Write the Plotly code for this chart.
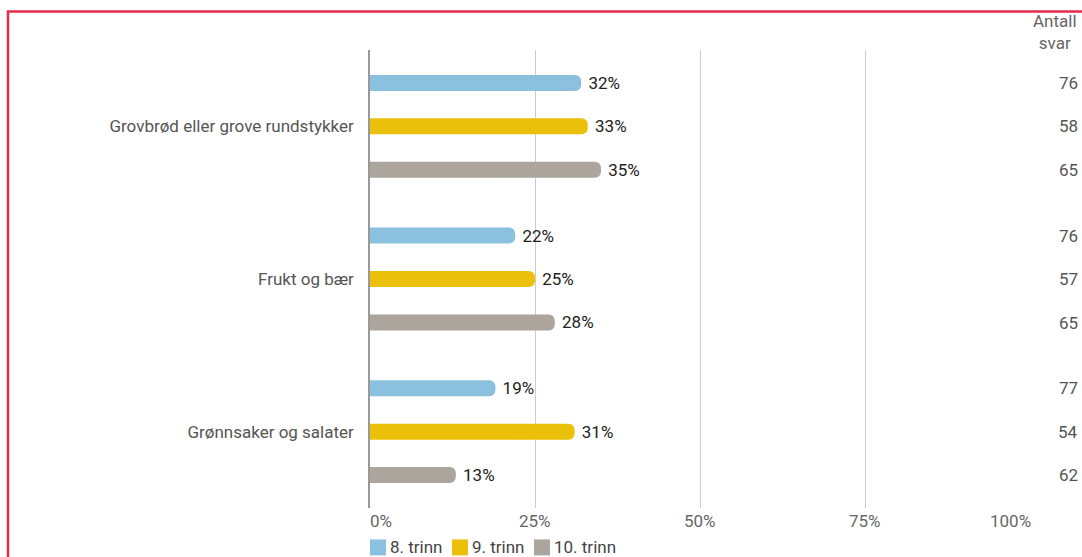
import plotly.graph_objects as go

categories = ["Grovbrød eller grove rundstykker", "Frukt og bær", "Grønnsaker og salater"]
series_names = ["8. trinn", "9. trinn", "10. trinn"]
values_8 = [32, 22, 19]
values_9 = [33, 25, 31]
values_10 = [35, 28, 13]
antall_8 = [76, 76, 77]
antall_9 = [58, 57, 54]
antall_10 = [65, 65, 62]
tick_vals = [0, 25, 50, 75, 100]
tick_text = ["0%", "25%", "50%", "75%", "100%"]

colors = ["#8BC1DF", "#EBC00A", "#ABA59E"]
all_values = [values_8, values_9, values_10]
all_counts = [antall_8, antall_9, antall_10]

FONT = "Roboto"
FS = 17
fig = go.Figure()
for name, vals, col in zip(series_names, all_values, colors):
    fig.add_trace(go.Bar(
        y=categories, x=vals, name=name, orientation="h", showlegend=False,
        marker=dict(color=col, cornerradius=6, line=dict(width=0)),
        text=[f" {v}%" for v in vals], textposition="outside", constraintext="none",
        textfont=dict(family=FONT, size=FS, color="#222222"),
        cliponaxis=False,
    ))

L, R, T, B = 370, 52, 49.5, 48.5
W, H = 1082, 557
pw, ph = W - L - R, H - T - B

def px_x(p):
    return (p - L) / pw

def px_y(p):
    return (H - B - p) / ph

annotations = []
for v, t in zip(tick_vals, tick_text):
    anchor = "left" if v == 0 else ("right" if v == 100 else "center")
    shift = -2 if v == 0 else (3 if v == 100 else 0)
    annotations.append(dict(x=v, y=0, xref="x", yref="paper", text=t, showarrow=False,
                            xanchor=anchor, yanchor="top", yshift=-1, xshift=shift,
                            font=dict(family=FONT, size=FS, color="#666666")))
for i, counts in enumerate(all_counts):
    for cat, c in zip(categories, counts):
        annotations.append(dict(x=1.0, xref="paper", y=cat, yref="y", text=str(c),
                                showarrow=False, xanchor="center", xshift=38,
                                yshift=(1 - i) * 43.5,
                                font=dict(family=FONT, size=FS, color="#555555")))
annotations.append(dict(x=px_x(1079), xref="paper", y=1.0, yref="paper", text="Antall<br>svar",
                        showarrow=False, xanchor="right", yanchor="bottom", yshift=-5,
                        align="center",
                        font=dict(family=FONT, size=FS, color="#666666")))

shapes = [dict(type="rect", xref="paper", yref="paper",
               x0=px_x(8), x1=2.0, y0=-0.5, y1=px_y(11),
               line=dict(color="#E52A4B", width=2.5), layer="above")]

# custom legend (square swatches + labels)
legend_x = [370, 452, 534]
for name, col, lx in zip(series_names, colors, legend_x):
    shapes.append(dict(type="rect", xref="paper", yref="paper",
                       x0=px_x(lx), x1=px_x(lx + 16), y0=px_y(556), y1=px_y(540),
                       fillcolor=col, line=dict(width=0)))
    annotations.append(dict(x=px_x(lx + 18), y=px_y(548), xref="paper", yref="paper",
                            text=name, showarrow=False, xanchor="left", yanchor="middle",
                            font=dict(family=FONT, size=FS, color="#444444")))

fig.update_layout(
    width=W, height=H,
    margin=dict(l=L, r=R, t=T, b=B, pad=0, autoexpand=False),
    paper_bgcolor="white", plot_bgcolor="white",
    barmode="group", bargap=1 - 130.5 / 153, bargroupgap=1 - 16 / 43.5,
    font=dict(family=FONT, size=FS, color="#555555"),
    xaxis=dict(range=[0, 100], tickvals=tick_vals, showticklabels=False,
               showgrid=True, gridcolor="#CCCCCC", gridwidth=1, zeroline=False,
               showline=False, fixedrange=True),
    yaxis=dict(autorange="reversed", showgrid=False, showline=True, linecolor="#999999",
               linewidth=1.5, ticks="", ticklabelstandoff=11,
               tickfont=dict(family=FONT, size=FS, color="#555555")),
    annotations=annotations, shapes=shapes,
    showlegend=False,
)
fig.write_html("out.html", config={"displayModeBar": False},
               post_script="document.body.style.margin='0';document.body.style.padding='0';")
